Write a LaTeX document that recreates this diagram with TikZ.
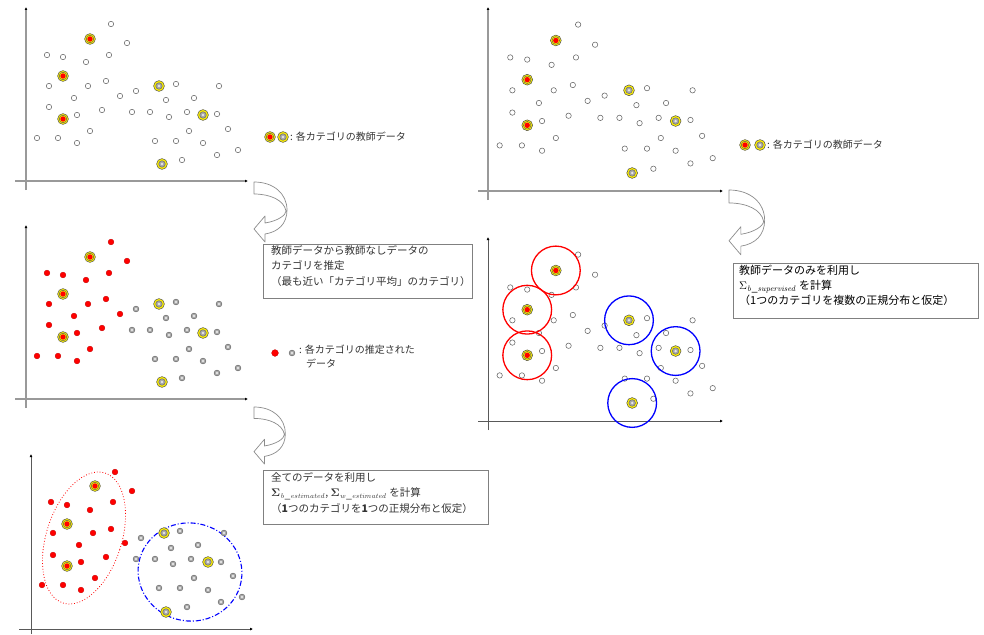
\documentclass[tikz,border=0pt]{standalone}
\usepackage[no-math]{fontspec}
\setmainfont{Noto Sans CJK JP}
\usetikzlibrary{arrows.meta}
\begin{document}
\begin{tikzpicture}[x=1pt,y=-1pt]
\tikzset{
 axthick/.style={draw=black!40, line width=1.6pt, -{Latex[length=3pt,width=3pt,color=black]}},
 axthin/.style={draw=black!65, line width=0.7pt, -{Latex[length=3pt,width=3pt,color=black]}},
 ptopen/.pic={\draw[black!60,fill=white,line width=0.55pt] (0,0) circle[radius=2.7pt];},
 ptred/.pic={\draw[red!75!black,fill=red,line width=0.3pt] (0,0) circle[radius=2.9pt];},
 ptgray/.pic={\draw[black!60,fill=black!35,line width=0.45pt] (0,0) circle[radius=2.9pt]; \fill[black!10] (0,0) circle[radius=1.3pt];},
 ptteachred/.pic={\draw[black!70,fill=yellow,line width=0.5pt] (0,0) circle[radius=5.4pt]; \draw[black!65,line width=0.45pt] (0,0) circle[radius=3.8pt]; \fill[red] (0,0) circle[radius=2.7pt];},
 ptteachgray/.pic={\draw[black!70,fill=yellow,line width=0.5pt] (0,0) circle[radius=5.4pt]; \draw[black!60,fill=black!35,line width=0.45pt] (0,0) circle[radius=3.3pt]; \fill[black!10] (0,0) circle[radius=1.4pt];},
 boxst/.style={draw=black!50, line width=0.7pt, anchor=north west, inner sep=0pt},
 txt/.style={anchor=north west, align=left, inner sep=0pt, text=black!80, font=\fontsize{10.5pt}{15.5pt}\selectfont},
 legtxt/.style={anchor=west, align=left, inner sep=0pt, text=black!80, font=\fontsize{10pt}{14pt}\selectfont},
 bendarrow/.style={draw=black!45, fill=white, line width=0.7pt, line join=round},
 regcirc/.style={line width=1.3pt},
}
\useasboundingbox (0,0) rectangle (984,634);
\fill[white] (0,0) rectangle (984,634);

\def\redlist{85/-157,101/-138,21/-126,37/-124,83/-126,60/-119,23/-95,62/-95,80/-100,48/-83,94/-85,23/-74,51/-66,76/-71,64/-50,11/-43,32/-43,51/-38}
\def\graylist{110/-90,106/-69,124/-69,150/-97,193/-95,140/-81,168/-83,143/-64,161/-69,191/-67,163/-50,202/-52,129/-40,150/-40,177/-38,191/-26,212/-31,156/-21}
\def\trlist{64/-142,37/-105,37/-62}
\def\tglist{133/-95,177/-66,136/-17}

% ---------- top-left panel ----------
\draw[axthick] (26,190) -- (26,7);
\draw[axthick] (15,181) -- (248,181);
\begin{scope}[shift={(26,181)}]
 \foreach \a/\b in \redlist {\pic at (\a,\b) {ptopen};}
 \foreach \a/\b in \graylist {\pic at (\a,\b) {ptopen};}
 \foreach \a/\b in \trlist {\pic at (\a,\b) {ptteachred};}
 \foreach \a/\b in \tglist {\pic at (\a,\b) {ptteachgray};}
\end{scope}

% ---------- middle-left panel ----------
\draw[axthick] (26,408) -- (26,225);
\draw[axthick] (15,399) -- (248,399);
\begin{scope}[shift={(26,399)}]
 \foreach \a/\b in \redlist {\pic at (\a,\b) {ptred};}
 \foreach \a/\b in \graylist {\pic at (\a,\b) {ptgray};}
 \foreach \a/\b in \trlist {\pic at (\a,\b) {ptteachred};}
 \foreach \a/\b in \tglist {\pic at (\a,\b) {ptteachgray};}
\end{scope}

% ---------- bottom-left panel ----------
\draw[axthin] (31,634) -- (31,454);
\draw[axthin] (19,629) -- (253,629);
\draw[red, dotted, line width=0.8pt, rotate around={-18:(84,538)}] (84,538) ellipse[x radius=37.6, y radius=68.3];
\draw[blue, line width=1.1pt, dash pattern=on 5pt off 2pt on 1pt off 2pt, rotate around={-10:(190,572)}] (190,572) ellipse[x radius=52, y radius=49];
\foreach \a/\b in {115/472,132/491,51/502,67/505,113/502,90/510,53/533,93/533,111/529,79/545,125/543,53/555,81/562,106/557,95/578,42/585,63/585,81/590} {\pic at (\a,\b) {ptred};}
\foreach \a/\b in {180/531,224/533,141/538,171/548,198/545,136/559,155/559,173/564,191/559,221/562,194/578,233/576,159/588,180/588,208/590,221/602,242/597,187/607} {\pic at (\a,\b) {ptgray};}
\foreach \a/\b in {95/486,67/524,67/566} {\pic at (\a,\b) {ptteachred};}
\foreach \a/\b in {164/533,208/562,166/612} {\pic at (\a,\b) {ptteachgray};}

% ---------- top-right panel ----------
\draw[axthick] (488,200) -- (488,7);
\draw[axthick] (478,191) -- (723,191);
\begin{scope}[shift={(488,191)}, scale=1.06]
 \foreach \a/\b in \redlist {\pic at (\a,\b) {ptopen};}
 \foreach \a/\b in \graylist {\pic at (\a,\b) {ptopen};}
 \foreach \a/\b in \trlist {\pic at (\a,\b) {ptteachred};}
 \foreach \a/\b in \tglist {\pic at (\a,\b) {ptteachgray};}
\end{scope}

% ---------- bottom-right panel ----------
\draw[axthin] (488,430) -- (488,237);
\draw[axthin] (478,421) -- (723,421);
\begin{scope}[shift={(488,421)}, scale=1.06]
 \foreach \a/\b in \redlist {\pic at (\a,\b) {ptopen};}
 \foreach \a/\b in \graylist {\pic at (\a,\b) {ptopen};}
 \foreach \a/\b in \trlist {\draw[red, regcirc] (\a,\b) circle[radius=23];}
 \foreach \a/\b in \tglist {\draw[blue, regcirc] (\a,\b) circle[radius=23];}
 \foreach \a/\b in \trlist {\pic at (\a,\b) {ptteachred};}
 \foreach \a/\b in \tglist {\pic at (\a,\b) {ptteachgray};}
\end{scope}

% ---------- curved arrows ----------
\foreach \sx/\sy/\sc in {254/182/1, 254/407/0.95, 729/190/1.08} {
 \draw[bendarrow, shift={(\sx,\sy)}, scale=\sc]
  (0,0) .. controls (20,0) and (33,12) .. (33,28)
  .. controls (33,42) and (24,50) .. (11,52)
  -- (11,60) -- (0,47) -- (11,34) -- (11,41)
  .. controls (24,39) and (32,33) .. (32,29)
  .. controls (30,18) and (16,12) .. (0,12) -- cycle;
}

% ---------- legends ----------
\pic at (270,137) {ptteachred};
\pic at (283,137) {ptteachgray};
\node[legtxt] (leg1) at (290,137) {: 各カテゴリの教師データ};

\draw[red!75!black,fill=red,line width=0.3pt] (275,353) circle[radius=3.4pt];
\pic at (292,353) {ptgray};
\node[legtxt, anchor=north west] (leg2) at (299,345) {: 各カテゴリの推定された\\\hspace*{7pt}データ};

\pic at (745,145) {ptteachred};
\pic at (760,145) {ptteachgray};
\node[legtxt] (leg3) at (767,145) {: 各カテゴリの教師データ};

% ---------- boxes ----------
\node[boxst, minimum width=209pt, minimum height=54pt] (box1) at (263,244) {};
\node[txt] (t1) at (271,245) {教師データから教師なしデータの\\カテゴリを推定\\（最も近い「カテゴリ平均」のカテゴリ）};

\node[boxst, minimum width=225pt, minimum height=54pt] (box2) at (263,470) {};
\node[txt] (t2) at (271,472) {全てのデータを利用し\\$\mathbf{\Sigma}_{\mathit{b\_estimated}}$, $\mathbf{\Sigma}_{\mathit{w\_estimated}}$ を計算\\（\textbf{1}つのカテゴリを\textbf{1}つの正規分布と仮定）};

\node[boxst, minimum width=245pt, minimum height=55pt] (box3) at (733,263) {};
\node[txt, text=black, font=\fontsize{11pt}{15pt}\selectfont] (t3) at (739,265) {教師データのみを利用し\\$\Sigma_{\mathit{b\_supervised}}$ を計算\\（1つのカテゴリを複数の正規分布と仮定）};

\end{tikzpicture}
\end{document}
